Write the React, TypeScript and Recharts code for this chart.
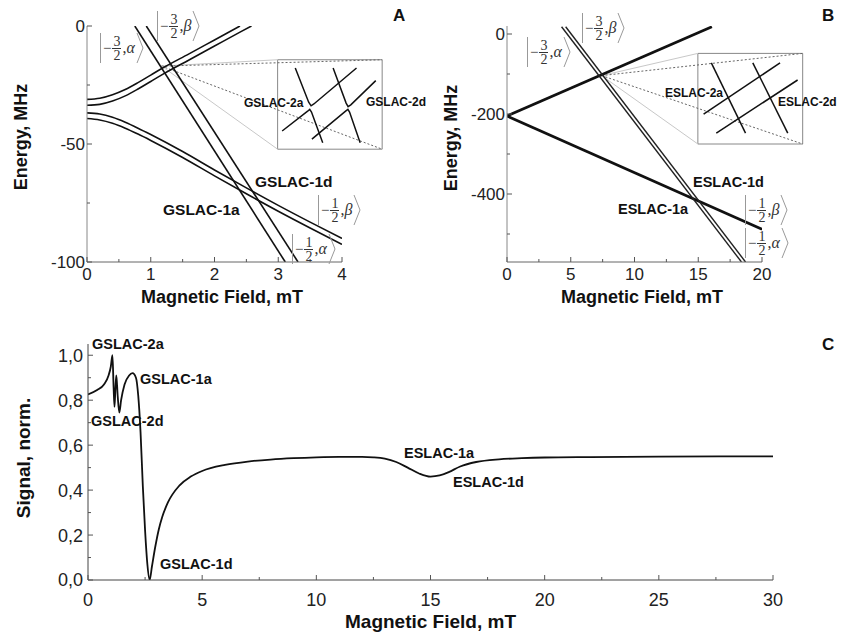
import { LineChart, Line, XAxis, YAxis, ReferenceLine, ReferenceArea } from 'recharts';

const SANS = '"Liberation Sans", Arial, sans-serif';
const SERIF = '"Liberation Serif", "DejaVu Serif", serif';

// ---- Panel A: ground-state levels, energy (MHz) vs field (mT)
const aUpper1 = [[0, -31.1], [0.2, -30.6], [0.4, -29.1], [0.6, -26.9], [0.8, -24.0], [1.0, -20.8], [1.2, -17.6], [1.6, -11.8], [2.0, -5.9], [2.4, 0]];
const aUpper2 = [[0, -33.6], [0.2, -33.2], [0.4, -31.8], [0.6, -29.6], [0.8, -26.7], [1.0, -23.5], [1.2, -20.3], [1.6, -14.4], [2.0, -8.5], [2.4, -2.6], [2.58, 0]];
const aSteep1 = [[0.75, 0], [3.11, -100]];
const aSteep2 = [[0.93, 0], [3.31, -100]];
const aLower1 = [[0, -36.8], [0.2, -37.3], [0.4, -38.7], [0.6, -40.8], [0.8, -43.3], [1.0, -46.0], [1.5, -53.2], [2.0, -61.0], [2.5, -68.6], [3.0, -76.0], [3.5, -83.1], [4.0, -90.0]];
const aLower2 = [[0, -39.2], [0.2, -39.8], [0.4, -41.2], [0.6, -43.3], [0.8, -45.8], [1.0, -48.5], [1.5, -55.7], [2.0, -63.5], [2.5, -71.1], [3.0, -78.5], [3.5, -85.6], [4.0, -92.5]];
const aTicksX = [0, 0.5, 1, 1.5, 2, 2.5, 3, 3.5, 4];
const aMajorX = [0, 1, 2, 3, 4];
const aTicksY = [-100, -75, -50, -25, 0];
const aMajorY = [-100, -50, 0];
const aZoomFrom = { b: 1.17, e: -17 };
const aZoomBox = { b1: 2.99, b2: 4.63, e1: -52.2, e2: -14.3 };

// inset A (normalised 0..1), GSLAC-2 anticrossings
const aIn1 = [[0.166, 0.9], [0.295, 0.52], [0.318, 0.48], [0.345, 0.5], [0.755, 0.9]];
const aIn2 = [[0.53, 0.9], [0.655, 0.51], [0.674, 0.47], [0.7, 0.49], [0.94, 0.76]];
const aIn3 = [[0.04, 0.2], [0.285, 0.42], [0.305, 0.44], [0.322, 0.41], [0.43, 0.07]];
const aIn4 = [[0.326, 0.11], [0.65, 0.42], [0.672, 0.44], [0.688, 0.41], [0.79, 0.07]];

// ---- Panel B: excited-state levels
const bRise = [[0, -205], [16.07, 18]];
const bFall = [[0, -205], [20, -488]];
const bSteep1 = [[4.28, 18], [18.39, -570]];
const bSteep2 = [[4.6, 18], [18.71, -570]];
const bTicksX = [0, 2.5, 5, 7.5, 10, 12.5, 15, 17.5, 20];
const bMajorX = [0, 5, 10, 15, 20];
const bTicksY = [-500, -400, -300, -200, -100, 0];
const bMajorY = [-400, -200, 0];
const bZoomFrom = { b: 7.42, e: -104 };
const bZoomBox = { b1: 14.97, b2: 23.19, e1: -275, e2: -48.5 };

// inset B, ESLAC-2 crossings
const bIn1 = [[0.128, 0.89], [0.457, 0.11]];
const bIn2 = [[0.527, 0.89], [0.863, 0.11]];
const bIn3 = [[0.054, 0.32], [0.789, 0.89]];
const bIn4 = [[0.176, 0.11], [0.958, 0.7]];

// ---- Panel C: normalised signal vs field
const cField = [0, 0.4, 0.7, 0.9, 1.0, 1.07, 1.12, 1.16, 1.2, 1.24, 1.3, 1.37, 1.45, 1.6, 1.8, 1.95, 2.1, 2.2, 2.3, 2.4, 2.5, 2.6, 2.7, 2.8, 2.95, 3.1, 3.25, 3.5, 4.0, 4.5, 5, 6, 7, 8, 9, 10, 11, 12, 12.5, 13, 13.5, 14, 14.5, 15, 15.4, 15.8, 16.3, 17, 18, 19, 20, 22, 25, 30];
const cSignal = [0.826, 0.845, 0.87, 0.91, 0.95, 1.0, 0.86, 0.77, 0.85, 0.91, 0.82, 0.745, 0.8, 0.87, 0.91, 0.92, 0.9, 0.82, 0.66, 0.42, 0.22, 0.07, 0.0, 0.06, 0.15, 0.225, 0.28, 0.345, 0.42, 0.46, 0.485, 0.512, 0.527, 0.536, 0.542, 0.546, 0.548, 0.548, 0.546, 0.54, 0.525, 0.5, 0.474, 0.46, 0.465, 0.48, 0.505, 0.525, 0.537, 0.542, 0.545, 0.547, 0.549, 0.55];
const cTicksX = [0, 2.5, 5, 7.5, 10, 12.5, 15, 17.5, 20, 22.5, 25, 27.5, 30];
const cMajorX = [0, 5, 10, 15, 20, 25, 30];
const cTicksY = [0, 0.1, 0.2, 0.3, 0.4, 0.5, 0.6, 0.7, 0.8, 0.9, 1.0];
const cMajorY = [0, 0.2, 0.4, 0.6, 0.8, 1.0];

const pts = (arr: number[][]) => arr.map(([b, e]) => ({ b, e }));
const cData = cField.map((b, i) => ({ b, s: cSignal[i] }));

const xTick = (majors: number[], fmt: (v: number) => string, size: number, gap: number) => (p: any) => {
  const v = p.payload.value;
  const major = majors.includes(v);
  return (
    <g>
      <line x1={p.x} x2={p.x} y1={p.y} y2={p.y - (major ? 5 : 3)} stroke="#555" />
      {major && <text x={p.x} y={p.y + gap} textAnchor="middle" fontSize={size} fontFamily={SANS} fill="#222">{fmt(v)}</text>}
    </g>
  );
};

const yTick = (majors: number[], fmt: (v: number) => string, size: number, gap: number) => (p: any) => {
  const v = p.payload.value;
  const major = majors.includes(v);
  return (
    <g>
      <line x1={p.x} x2={p.x + (major ? 5 : 3)} y1={p.y} y2={p.y} stroke="#555" />
      {major && <text x={p.x - gap} y={p.y} dy="0.36em" textAnchor="end" fontSize={size} fontFamily={SANS} fill="#222">{fmt(v)}</text>}
    </g>
  );
};

const plain = (v: number) => String(v);
const comma = (v: number) => v.toFixed(1).replace('.', ',');

function Note({ x, y, size, children, rotate }: any) {
  return (
    <div style={{
      position: 'absolute', left: x, top: y, fontFamily: SANS, fontWeight: 'bold', fontSize: size,
      lineHeight: 1, whiteSpace: 'nowrap', color: '#111',
      transform: rotate ? 'translate(-50%, -50%) rotate(-90deg)' : 'translateY(-50%)',
    }}>{children}</div>
  );
}

function Ket({ x, y, num, sym }: any) {
  return (
    <div style={{ position: 'absolute', left: x, top: y, height: 30, display: 'flex', alignItems: 'center', fontFamily: SERIF, color: '#333' }}>
      <div style={{ width: 1, height: 30, background: '#999', marginRight: 2 }} />
      <span style={{ fontSize: 15 }}>−</span>
      <div style={{ display: 'flex', flexDirection: 'column', alignItems: 'center', fontSize: 14, lineHeight: '13px', margin: '0 1px' }}>
        <span style={{ borderBottom: '1px solid #333', padding: '0 1px' }}>{num}</span>
        <span>2</span>
      </div>
      <span style={{ fontSize: 16 }}>,<i>{sym}</i></span>
      <svg width={8} height={30} style={{ marginLeft: 1 }}><polyline points="1,0 7,15 1,30" fill="none" stroke="#999" /></svg>
    </div>
  );
}

function Inset({ left, top, lines }: any) {
  return (
    <div style={{ position: 'absolute', left, top }}>
      <LineChart width={104} height={90} margin={{ top: 0, right: 0, bottom: 0, left: 0 }}>
        <XAxis type="number" dataKey="b" domain={[0, 1]} hide />
        <YAxis type="number" domain={[0, 1]} hide />
        {lines.map((l: number[][], i: number) => (
          <Line key={i} data={pts(l)} dataKey="e" stroke="#111" strokeWidth={1.5} dot={false} isAnimationActive={false} />
        ))}
      </LineChart>
    </div>
  );
}

function zoomGuides(from: any, box: any) {
  const corners = [
    { b: box.b1, e: box.e2, dash: false },
    { b: box.b2, e: box.e2, dash: true },
    { b: box.b2, e: box.e1, dash: true },
    { b: box.b1, e: box.e1, dash: false },
  ];
  return corners.map((c, i) => (
    <ReferenceLine key={i} ifOverflow="visible" segment={[{ x: from.b, y: from.e }, { x: c.b, y: c.e }]}
      stroke={c.dash ? '#666' : '#c8c8c8'} strokeWidth={1} strokeDasharray={c.dash ? '2 2' : undefined} />
  ));
}

const lineProps = { dataKey: 'e', dot: false, isAnimationActive: false, type: 'monotone' as const };

export default function App() {
  return (
    <div style={{ position: 'absolute', left: 0, top: 0, width: 842, height: 637, background: '#fff', overflow: 'hidden' }}>
      {/* A */}
      <div style={{ position: 'absolute', left: 0, top: 0 }}>
        <LineChart width={420} height={310} margin={{ top: 26, right: 78, bottom: 0, left: 0 }}>
          <XAxis type="number" dataKey="b" domain={[0, 4]} ticks={aTicksX} interval={0} allowDataOverflow height={48}
            tickLine={false} tickSize={0} tickMargin={0} stroke="#666" tick={xTick(aMajorX, plain, 17, 18)} />
          <YAxis type="number" domain={[-100, 0]} ticks={aTicksY} interval={0} allowDataOverflow width={87}
            tickLine={false} tickSize={0} tickMargin={0} stroke="#888" tick={yTick(aMajorY, plain, 17, 2)} />
          {zoomGuides(aZoomFrom, aZoomBox)}
          <ReferenceArea ifOverflow="visible" x1={aZoomBox.b1} x2={aZoomBox.b2} y1={aZoomBox.e1} y2={aZoomBox.e2} fill="none" stroke="#888" strokeWidth={1} />
          {[aUpper1, aUpper2, aSteep1, aSteep2, aLower1, aLower2].map((l, i) => (
            <Line key={i} data={pts(l)} {...lineProps} stroke="#111" strokeWidth={1.6} />
          ))}
        </LineChart>
      </div>
      <Inset left={278} top={59} lines={[aIn1, aIn2, aIn3, aIn4]} />

      {/* B */}
      <div style={{ position: 'absolute', left: 420, top: 0 }}>
        <LineChart width={422} height={310} margin={{ top: 26, right: 80, bottom: 0, left: 0 }}>
          <XAxis type="number" dataKey="b" domain={[0, 20]} ticks={bTicksX} interval={0} allowDataOverflow height={48}
            tickLine={false} tickSize={0} tickMargin={0} stroke="#666" tick={xTick(bMajorX, plain, 17, 18)} />
          <YAxis type="number" domain={[-570, 20]} ticks={bTicksY} interval={0} allowDataOverflow width={87}
            tickLine={false} tickSize={0} tickMargin={0} stroke="#888" tick={yTick(bMajorY, plain, 17, 2)} />
          {zoomGuides(bZoomFrom, bZoomBox)}
          <ReferenceArea ifOverflow="visible" x1={bZoomBox.b1} x2={bZoomBox.b2} y1={bZoomBox.e1} y2={bZoomBox.e2} fill="none" stroke="#888" strokeWidth={1} />
          <Line data={pts(bRise)} {...lineProps} type="linear" stroke="#111" strokeWidth={2.8} />
          <Line data={pts(bFall)} {...lineProps} type="linear" stroke="#111" strokeWidth={2.8} />
          <Line data={pts(bSteep1)} {...lineProps} type="linear" stroke="#222" strokeWidth={1.4} />
          <Line data={pts(bSteep2)} {...lineProps} type="linear" stroke="#222" strokeWidth={1.4} />
        </LineChart>
      </div>
      <Inset left={698} top={53} lines={[bIn1, bIn2, bIn3, bIn4]} />

      {/* C */}
      <div style={{ position: 'absolute', left: 0, top: 320 }}>
        <LineChart width={842} height={317} data={cData} margin={{ top: 24, right: 69, bottom: 0, left: 0 }}>
          <XAxis type="number" dataKey="b" domain={[0, 30]} ticks={cTicksX} interval={0} allowDataOverflow height={57}
            tickLine={false} tickSize={0} tickMargin={0} stroke="#444" tick={xTick(cMajorX, plain, 18, 26)} />
          <YAxis type="number" domain={[0, 1.05]} ticks={cTicksY} interval={0} allowDataOverflow width={88}
            tickLine={false} tickSize={0} tickMargin={0} stroke="#444" tick={yTick(cMajorY, comma, 18, 5)} />
          <Line dataKey="s" type="monotone" stroke="#111" strokeWidth={1.8} dot={false} isAnimationActive={false} />
        </LineChart>
      </div>

      {/* axis titles */}
      <Note x={20.5} y={137} size={18} rotate>Energy, MHz</Note>
      <Note x={222} y={297} size={18}><span style={{ position: 'relative', left: -81 }}>Magnetic Field, mT</span></Note>
      <Note x={450.5} y={138} size={18} rotate>Energy, MHz</Note>
      <Note x={642} y={297} size={18}><span style={{ position: 'relative', left: -81 }}>Magnetic Field, mT</span></Note>
      <Note x={23} y={458} size={19} rotate>Signal, norm.</Note>
      <Note x={430} y={621} size={19}><span style={{ position: 'relative', left: -85 }}>Magnetic Field, mT</span></Note>

      {/* panel letters */}
      <Note x={393} y={15} size={17}>A</Note>
      <Note x={822} y={15} size={17}>B</Note>
      <Note x={822} y={344} size={17}>C</Note>

      {/* annotations A */}
      <Note x={244} y={103} size={12}>GSLAC-2a</Note>
      <Note x={366} y={102} size={12}>GSLAC-2d</Note>
      <Note x={255} y={182} size={15.5}>GSLAC-1d</Note>
      <Note x={163} y={209.5} size={15.5}>GSLAC-1a</Note>
      {/* annotations B */}
      <Note x={665} y={93} size={12}>ESLAC-2a</Note>
      <Note x={778} y={102} size={12}>ESLAC-2d</Note>
      <Note x={693} y={182} size={14.5}>ESLAC-1d</Note>
      <Note x={618} y={209} size={14.5}>ESLAC-1a</Note>
      {/* annotations C */}
      <Note x={92} y={344} size={14.5}>GSLAC-2a</Note>
      <Note x={140} y={379} size={14.5}>GSLAC-1a</Note>
      <Note x={91} y={421} size={14.5}>GSLAC-2d</Note>
      <Note x={160} y={564} size={14.5}>GSLAC-1d</Note>
      <Note x={404} y={453} size={14.5}>ESLAC-1a</Note>
      <Note x={453} y={482} size={14.5}>ESLAC-1d</Note>

      {/* state labels */}
      <Ket x={100} y={33} num="3" sym="α" />
      <Ket x={157} y={11} num="3" sym="β" />
      <Ket x={318} y={195} num="1" sym="β" />
      <Ket x={292} y={234} num="1" sym="α" />
      <Ket x={527} y={37} num="3" sym="α" />
      <Ket x={582} y={13} num="3" sym="β" />
      <Ket x={745} y={195} num="1" sym="β" />
      <Ket x={745} y={228} num="1" sym="α" />
    </div>
  );
}
